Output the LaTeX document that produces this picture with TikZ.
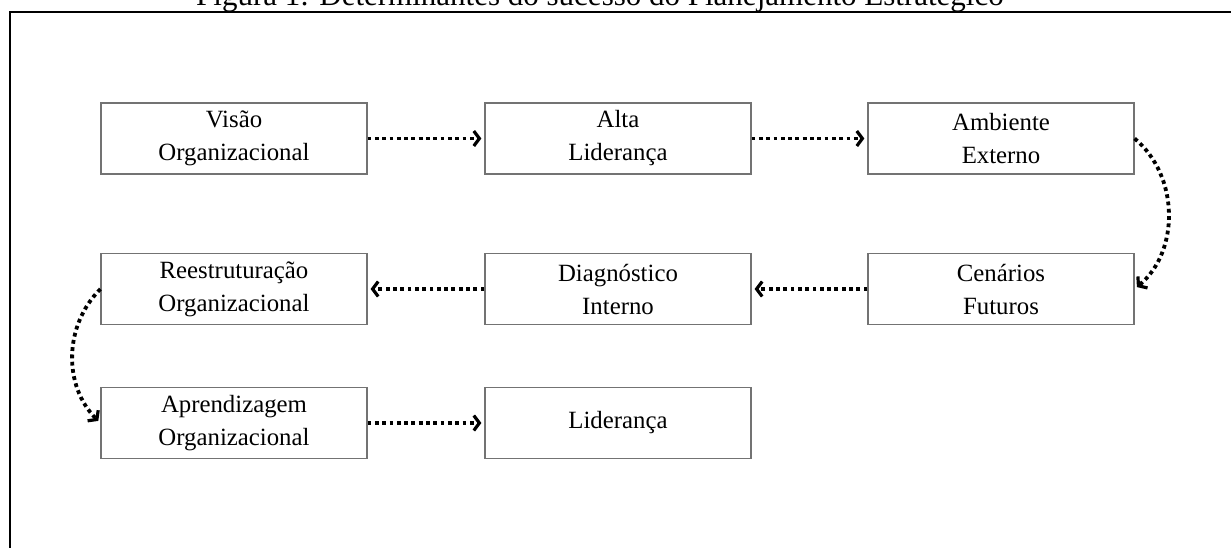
\documentclass[tikz,border=0pt]{standalone}
\usepackage{fontspec}
\setmainfont{Liberation Serif}
\usetikzlibrary{arrows.meta}

\begin{document}
\begin{tikzpicture}[x=0.5pt, y=0.5pt,
        box/.style={draw=black!55, line width=0.6pt, minimum width=133pt, minimum height=35.5pt,
            inner sep=0pt, align=center, font=\fontsize{12.4}{16.5}\selectfont},
        flow/.style={line width=1.9pt, dash pattern=on 1.9pt off 1.75pt, shorten >=1.5pt,
            -{Straight Barb[length=2.8pt, width=7.5pt, line width=1.6pt]}}]
        \def\colA{234}
        \def\colB{618}
        \def\colC{1001}
        \def\rowA{-138.5}
        \def\rowB{-289}
        \def\rowC{-423}

        \useasboundingbox (0,0) rectangle (1231,-547);
        \draw[line width=1pt] (9.5,-12) rectangle (1240,-560);
        \node[anchor=base, font=\fontsize{15.5}{18}\selectfont] (title) at (600,-5)
            {Figura 1: Determinantes do sucesso do Planejamento Estratégico};

        \node[box] (visao) at (\colA,\rowA) {Visão\\Organizacional};
        \node[box] (alta) at (\colB,\rowA) {Alta\\Liderança};
        \node[box] (amb) at (\colC,\rowA) {Ambiente\\Externo};

        \node[box] (reest) at (\colA,\rowB) {Reestruturação\\Organizacional};
        \node[box] (diag) at (\colB,\rowB) {Diagnóstico\\Interno};
        \node[box] (cen) at (\colC,\rowB) {Cenários\\Futuros};

        \node[box] (apren) at (\colA,\rowC) {Aprendizagem\\Organizacional};
        \node[box] (lider) at (\colB,\rowC) {Liderança};

        \draw[flow] (visao) -- (alta);
        \draw[flow] (alta) -- (amb);
        \draw[flow] (amb.east) to[bend left=50] (cen.east);
        \draw[flow] (cen) -- (diag);
        \draw[flow] (diag) -- (reest);
        \draw[flow] (reest.west) to[bend right=45] (apren.west);
        \draw[flow] (apren) -- (lider);
    \end{tikzpicture}
\end{document}
